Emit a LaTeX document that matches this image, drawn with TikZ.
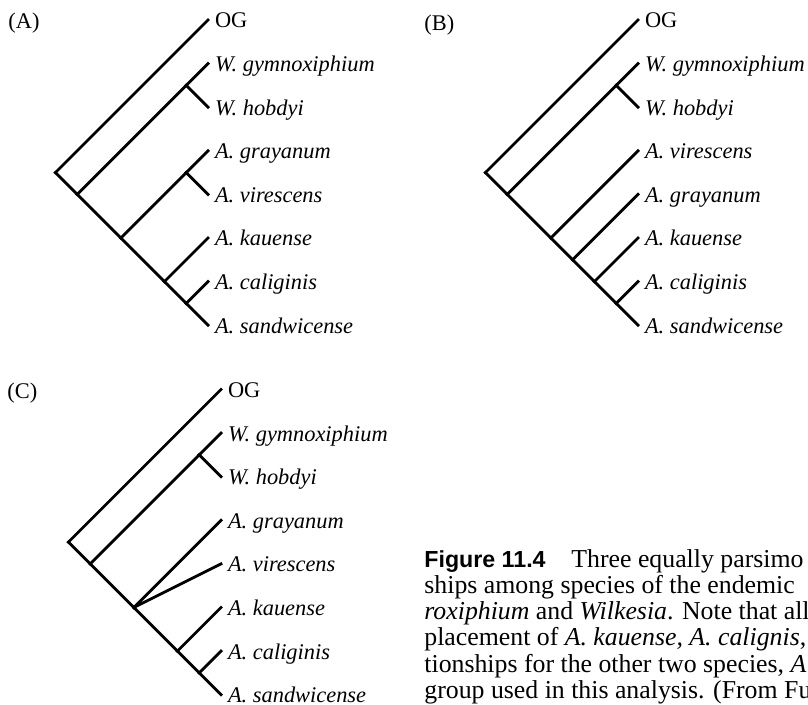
\documentclass[tikz,border=0pt]{standalone}
\usepackage{fontspec}
\setmainfont{Liberation Serif}
\setsansfont{Liberation Sans}
\begin{document}
\begin{tikzpicture}[x=0.5pt, y=-0.5pt, line width=1.4pt, line cap=rect,
  leaf/.style={anchor=base west, inner xsep=2.8pt, inner ysep=0pt, yshift=-4pt, font=\fontsize{11.2}{13}\selectfont\itshape},
  tag/.style={anchor=base west, inner sep=0pt, font=\fontsize{11.2}{13}\selectfont},
  capline/.style={anchor=base west, inner sep=0pt, font=\fontsize{12.9}{14}\selectfont}]
\useasboundingbox (0,0) rectangle (808,705);
\clip (0,0) rectangle (808,705);

% (A)
\node[tag] (tA) at (7,29) {(A)};
\foreach \i in {0,...,7} \coordinate (a\i) at (208,20+43.6*\i);
\coordinate (rA) at (55.4,172.6);
\coordinate (iA) at (77.2,194.4);
\coordinate (wA) at (186.2,85.4);
\coordinate (gA) at (120.8,238);
\coordinate (vA) at (186.2,172.6);
\coordinate (kA) at (164.4,281.6);
\coordinate (cA) at (186.2,303.4);
\foreach \u/\v in {rA/a0,rA/iA,iA/wA,wA/a1,wA/a2,iA/gA,gA/vA,vA/a3,vA/a4,gA/kA,kA/a5,kA/cA,cA/a6,cA/a7} \draw (\u)--(\v);
\foreach \i/\t in {0/{\upshape OG},1/W. gymnoxiphium,2/W. hobdyi,3/A. grayanum,4/A. virescens,5/A. kauense,6/A. caliginis,7/A. sandwicense}
  \node[leaf] (la\i) at (a\i) {\t};

% (B)
\node[tag] (tB) at (423,30.5) {(B)};
\foreach \i in {0,...,7} \coordinate (b\i) at (638,20+43.6*\i);
\coordinate (rB) at (485.4,172.6);
\coordinate (iB) at (507.2,194.4);
\coordinate (wB) at (616.2,85.4);
\coordinate (gB) at (550.8,238);
\coordinate (hB) at (572.6,259.8);
\coordinate (kB) at (594.4,281.6);
\coordinate (cB) at (616.2,303.4);
\foreach \u/\v in {rB/b0,rB/iB,iB/wB,wB/b1,wB/b2,iB/gB,gB/b3,gB/hB,hB/b4,hB/kB,kB/b5,kB/cB,cB/b6,cB/b7} \draw (\u)--(\v);
\foreach \i/\t in {0/{\upshape OG},1/W. gymnoxiphium,2/W. hobdyi,3/A. virescens,4/A. grayanum,5/A. kauense,6/A. caliginis,7/A. sandwicense}
  \node[leaf] (lb\i) at (b\i) {\t};

% (C)
\node[tag] (tC) at (6,399) {(C)};
\foreach \i in {0,...,7} \coordinate (c\i) at (221,389.5+43.6*\i);
\coordinate (rC) at (68.4,542.1);
\coordinate (iC) at (90.2,563.9);
\coordinate (wC) at (199.2,454.9);
\coordinate (gC) at (133.8,607.5);
\coordinate (kC) at (177.4,651.1);
\coordinate (cC) at (199.2,672.9);
\foreach \u/\v in {rC/c0,rC/iC,iC/wC,wC/c1,wC/c2,iC/gC,gC/c3,gC/c4,gC/kC,kC/c5,kC/cC,cC/c6,cC/c7} \draw (\u)--(\v);
\foreach \i/\t in {0/{\upshape OG},1/W. gymnoxiphium,2/W. hobdyi,3/A. grayanum,4/A. virescens,5/A. kauense,6/A. caliginis,7/A. sandwicense}
  \node[leaf] (lc\i) at (c\i) {\t};

% caption
\node[capline] (cap1) at (423,567) {\makebox[73.5pt][l]{\fontsize{11.6}{14}\selectfont\sffamily\bfseries Figure 11.4}Three equally parsimo};
\node[capline] (cap2) at (423,593.3) {ships among species of the endemic};
\node[capline] (cap3) at (423,619.6) {\textit{roxiphium} and \textit{Wilkesia}. Note that all};
\node[capline] (cap4) at (423,645.9) {placement of \textit{A. kauense, A. calignis}, a};
\node[capline] (cap5) at (423,672.2) {tionships for the other two species, \textit{A}};
\node[capline] (cap6) at (423,698.5) {group used in this analysis. (From Fu};
\end{tikzpicture}
\end{document}
